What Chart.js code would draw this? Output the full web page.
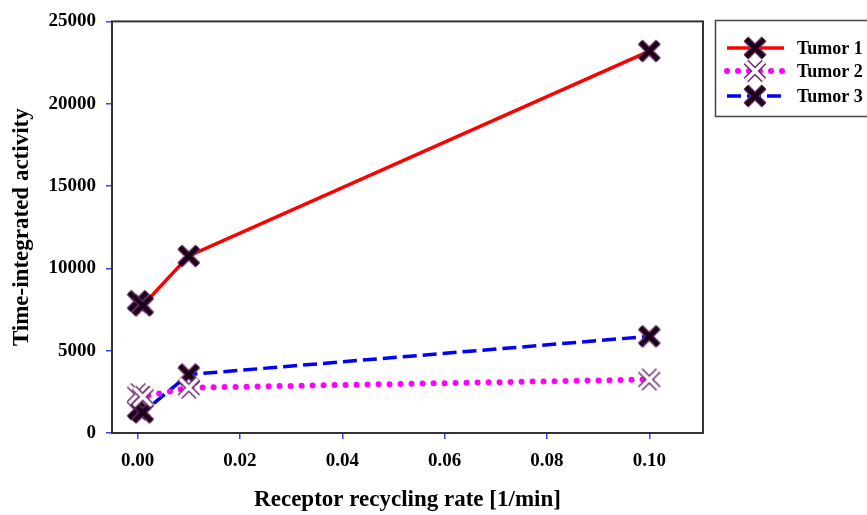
<!DOCTYPE html>
<html>
<head>
<meta charset="utf-8">
<script src="https://cdn.jsdelivr.net/npm/chart.js@4"></script>
<style>
  body { margin: 0; background: #fff; }
</style>
</head>
<body>
<canvas id="chart" width="867" height="515"></canvas>
<script>
// Data
const rates = [0.0001, 0.001, 0.01, 0.1];
const tumor1 = [8000, 7750, 10750, 23200];
const tumor2 = [2350, 2200, 2750, 3250];
const tumor3 = [1450, 1250, 3550, 5870];
const seriesNames = ['Tumor 1', 'Tumor 2', 'Tumor 3'];
const xTicks = [0, 0.02, 0.04, 0.06, 0.08, 0.10];
const yTicks = [0, 5000, 10000, 15000, 20000, 25000];

const serif = "'Liberation Serif', 'DejaVu Serif', serif";

// X shaped marker drawn on a small canvas
function makeCross(edge, fill, edgeWidth, innerWidth) {
    const c = document.createElement('canvas');
    c.width = 26;
    c.height = 26;
    const g = c.getContext('2d');
    const strokeX = (color, w) => {
        g.strokeStyle = color;
        g.lineWidth = w;
        g.lineCap = 'butt';
        g.beginPath();
        g.moveTo(4, 4); g.lineTo(22, 22);
        g.moveTo(22, 4); g.lineTo(4, 22);
        g.stroke();
    };
    strokeX(edge, edgeWidth);
    strokeX(fill, innerWidth);
    return c;
}

const solidX = makeCross('#6a2a6a', '#1a0016', 7, 4.5);
const hollowX = makeCross('#6a2a6a', '#ffffff', 6.5, 3.5);

function toPoints(values) {
    return values.map((v, i) => ({ x: rates[i], y: v }));
}

const datasets = [
    {
        label: seriesNames[0],
        data: toPoints(tumor1),
        borderColor: '#ff0000',
        borderWidth: 3.5,
        pointStyle: solidX
    },
    {
        label: seriesNames[1],
        data: toPoints(tumor2),
        borderColor: '#ff00ff',
        borderWidth: 6,
        borderDash: [0, 11],
        borderCapStyle: 'round',
        pointStyle: hollowX
    },
    {
        label: seriesNames[2],
        data: toPoints(tumor3),
        borderColor: '#0000ff',
        borderWidth: 3.5,
        borderDash: [14, 6],
        pointStyle: solidX
    }
];

// frame around the plot plus the boxed legend on the right
const framePlugin = {
    id: 'frame',
    afterDatasetsDraw(chart) {
        const { ctx, chartArea: a } = chart;
        ctx.save();
        ctx.strokeStyle = '#333';
        ctx.lineWidth = 2;
        ctx.strokeRect(a.left, a.top, a.right - a.left, a.bottom - a.top);
        ctx.restore();
    },
    afterDraw(chart) {
        const ctx = chart.ctx;
        ctx.save();
        ctx.strokeStyle = '#444';
        ctx.lineWidth = 1.5;
        ctx.strokeRect(715.5, 20.5, 160, 96);
        const rows = [48, 71, 96];
        chart.data.datasets.forEach((ds, i) => {
            const y = rows[i];
            ctx.save();
            ctx.strokeStyle = ds.borderColor;
            ctx.lineWidth = ds.borderWidth;
            ctx.lineCap = ds.borderCapStyle || 'butt';
            ctx.setLineDash(ds.borderDash || []);
            ctx.beginPath();
            ctx.moveTo(727, y);
            ctx.lineTo(784, y);
            ctx.stroke();
            ctx.restore();
            ctx.drawImage(ds.pointStyle, 755 - 13, y - 13);
            ctx.fillStyle = '#000';
            ctx.font = "bold 18px " + serif;
            ctx.textBaseline = 'middle';
            ctx.textAlign = 'left';
            ctx.fillText(ds.label, 797, y + 1);
        });
        ctx.restore();
    }
};

new Chart(document.getElementById('chart'), {
    type: 'line',
    data: { datasets: datasets },
    options: {
        responsive: false,
        animation: false,
        events: [],
        layout: { padding: { top: 12, right: 164, left: 0, bottom: 0 } },
        elements: {
            line: { tension: 0, fill: false },
            point: { radius: 11 }
        },
        plugins: {
            legend: { display: false },
            tooltip: { enabled: false }
        },
        scales: {
            x: {
                type: 'linear',
                min: -0.005,
                max: 0.1105,
                afterBuildTicks: s => { s.ticks = xTicks.map(v => ({ value: v })); },
                afterFit: s => { s.height = 82; },
                grid: { drawOnChartArea: false, drawTicks: true, tickLength: 6, color: '#3344ff', lineWidth: 1.5 },
                border: { display: false },
                ticks: {
                    padding: 11,
                    color: '#000',
                    font: { family: serif, size: 19, weight: 'bold' },
                    callback: v => v.toFixed(2)
                },
                title: {
                    display: true,
                    text: 'Receptor recycling rate [1/min]',
                    color: '#000',
                    font: { family: serif, size: 23, weight: 'bold' },
                    padding: { top: 0, bottom: 1 }
                }
            },
            y: {
                min: 0,
                max: 25000,
                afterBuildTicks: s => { s.ticks = yTicks.map(v => ({ value: v })); },
                afterFit: s => { s.width = 112; },
                grid: { drawOnChartArea: false, drawTicks: true, tickLength: 6, color: '#3344ff', lineWidth: 1.5 },
                border: { display: false },
                ticks: {
                    padding: 10,
                    color: '#000',
                    font: { family: serif, size: 19, weight: 'bold' },
                    callback: v => String(v)
                },
                title: {
                    display: true,
                    text: 'Time-integrated activity',
                    color: '#000',
                    font: { family: serif, size: 23, weight: 'bold' },
                    padding: { top: 8, bottom: 0 }
                }
            }
        }
    },
    plugins: [framePlugin]
});
</script>
</body>
</html>
